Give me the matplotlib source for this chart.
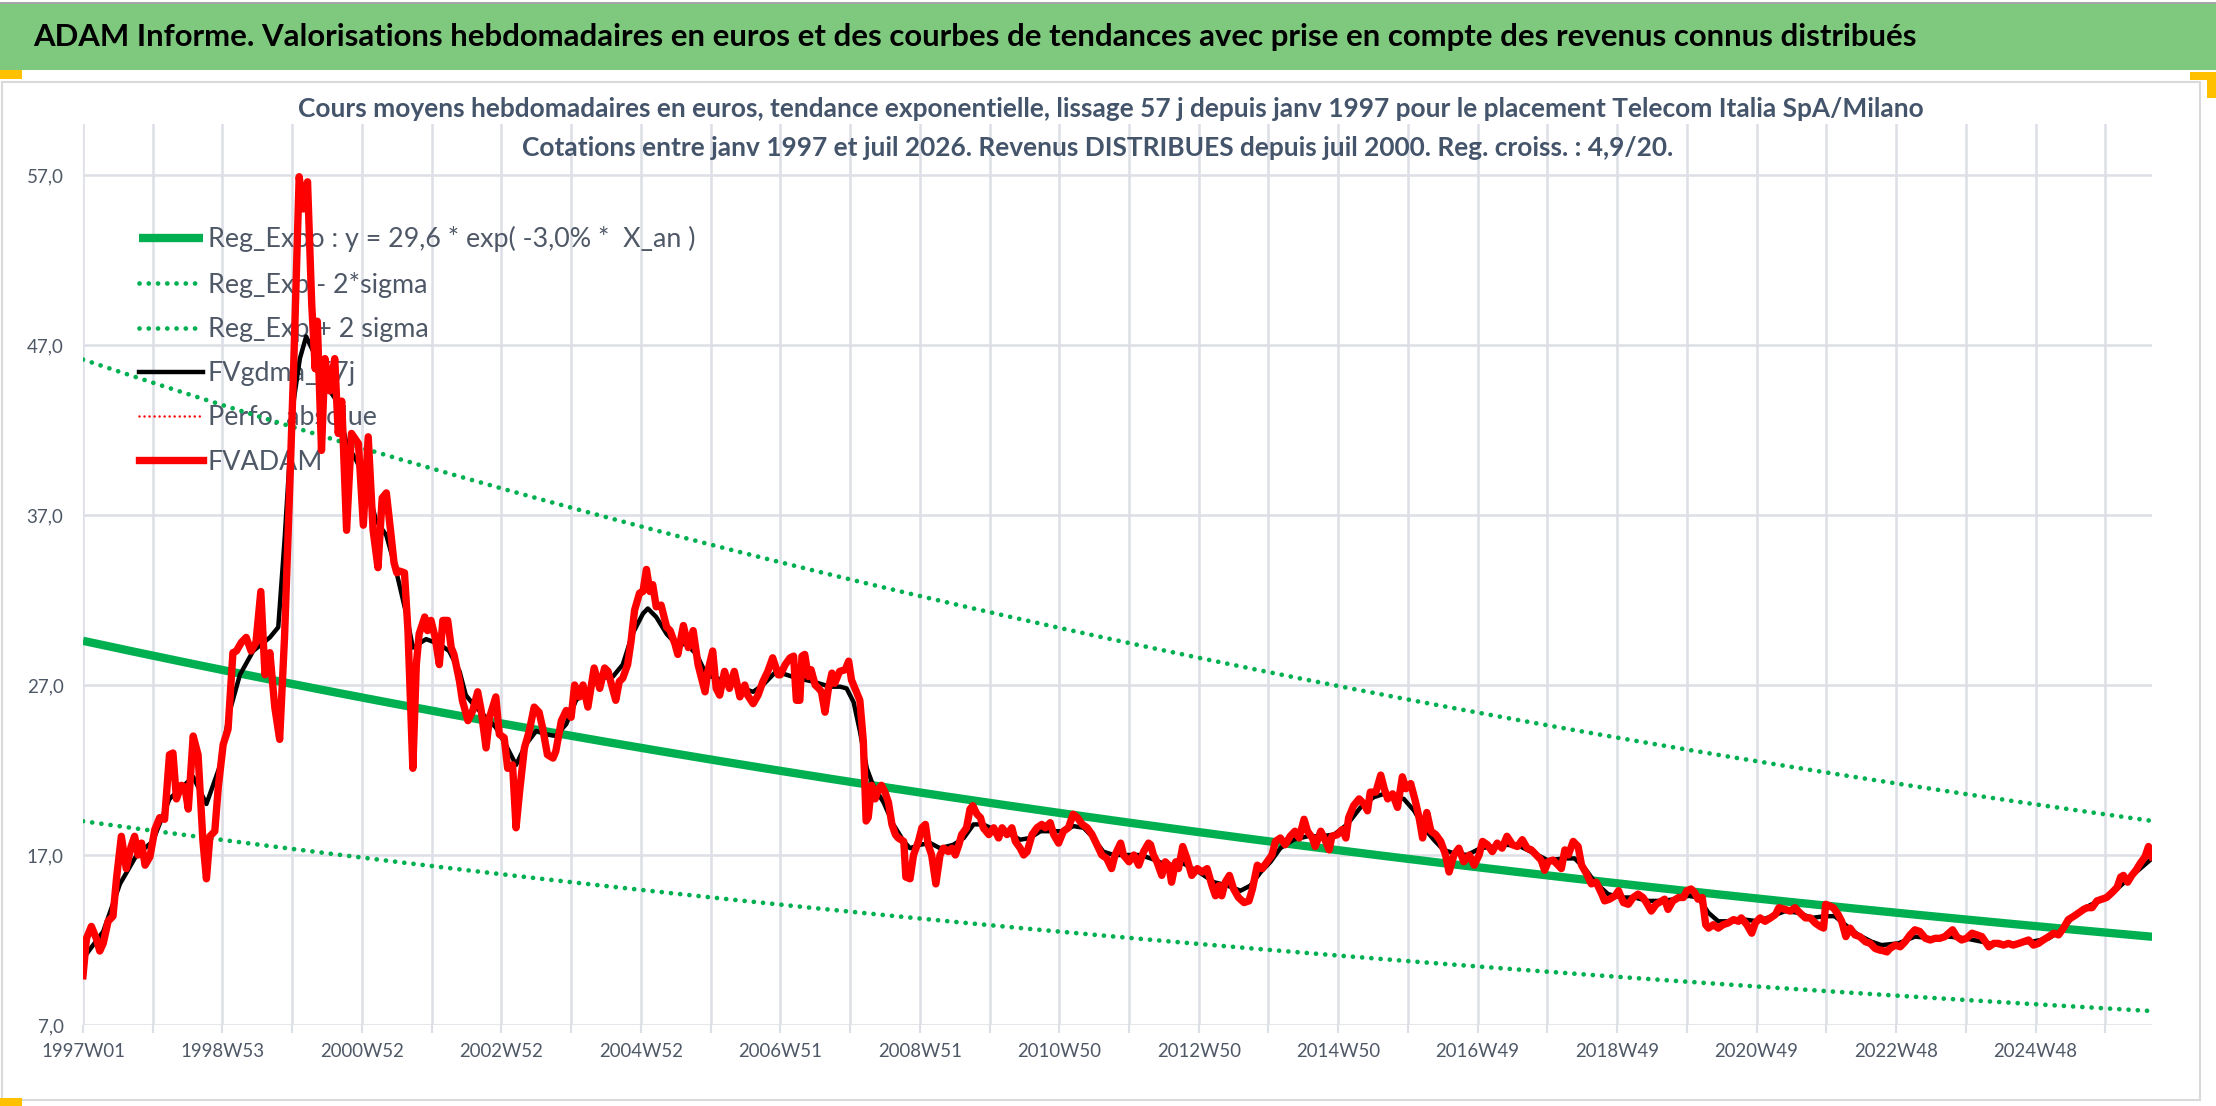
import numpy as np
import matplotlib
matplotlib.use('Agg')
import matplotlib.pyplot as plt
from matplotlib.patches import Rectangle

# ---- data (dates in 52-week "years" from 1997W01) ----
red_yr = [
    1997.00, 1997.05, 1997.12, 1997.19, 1997.24, 1997.29, 1997.36, 1997.43, 1997.48, 1997.55,
    1997.62, 1997.69, 1997.74, 1997.79, 1997.84, 1997.89, 1997.96, 1998.03, 1998.10, 1998.17,
    1998.24, 1998.29, 1998.34, 1998.41, 1998.46, 1998.51, 1998.58, 1998.65, 1998.72, 1998.77,
    1998.82, 1998.89, 1998.94, 1999.01, 1999.08, 1999.15, 1999.20, 1999.27, 1999.34, 1999.41,
    1999.48, 1999.55, 1999.61, 1999.68, 1999.75, 1999.82, 1999.89, 1999.97, 2000.02, 2000.10,
    2000.16, 2000.22, 2000.28, 2000.33, 2000.36, 2000.42, 2000.47, 2000.54, 2000.61, 2000.66,
    2000.71, 2000.78, 2000.85, 2000.95, 2001.02, 2001.09, 2001.16, 2001.23, 2001.29, 2001.35,
    2001.41, 2001.46, 2001.50,
    2001.54, 2001.61, 2001.66, 2001.73, 2001.78, 2001.82, 2001.90, 2001.94, 2001.99, 2002.05,
    2002.11, 2002.16, 2002.23, 2002.28, 2002.32, 2002.40, 2002.44, 2002.52, 2002.59, 2002.66,
    2002.71, 2002.78, 2002.83, 2002.92, 2002.97, 2003.04, 2003.09, 2003.16, 2003.21, 2003.26,
    2003.33, 2003.40, 2003.47, 2003.54, 2003.59, 2003.66, 2003.74, 2003.78, 2003.86, 2003.93,
    2004.00, 2004.05, 2004.12, 2004.17, 2004.24, 2004.29, 2004.33, 2004.41, 2004.48, 2004.53,
    2004.58, 2004.64, 2004.69, 2004.74, 2004.81, 2004.86, 2004.91, 2004.98, 2005.03, 2005.08,
    2005.13, 2005.17, 2005.22, 2005.29, 2005.37, 2005.42, 2005.49, 2005.53, 2005.61, 2005.68,
    2005.75, 2005.82, 2005.87, 2005.92, 2005.96, 2006.03, 2006.08, 2006.13, 2006.20, 2006.27,
    2006.34, 2006.42, 2006.49, 2006.53, 2006.61, 2006.68, 2006.75, 2006.82, 2006.89, 2006.97,
    2007.00, 2007.07, 2007.14, 2007.19, 2007.23, 2007.28, 2007.31, 2007.35, 2007.40, 2007.44,
    2007.50, 2007.55, 2007.59, 2007.64, 2007.69, 2007.74, 2007.78, 2007.85, 2007.93, 2007.98,
    2008.02, 2008.07, 2008.14, 2008.19, 2008.23, 2008.26, 2008.31, 2008.36, 2008.41, 2008.45,
    2008.50, 2008.55, 2008.60, 2008.65, 2008.69, 2008.77, 2008.80, 2008.86, 2008.91, 2008.98,
    2009.03, 2009.08, 2009.12, 2009.17, 2009.23, 2009.29, 2009.34, 2009.41, 2009.46, 2009.51,
    2009.56, 2009.60, 2009.67, 2009.72, 2009.76, 2009.82, 2009.87, 2009.91, 2009.99, 2010.06,
    2010.13, 2010.18, 2010.25, 2010.32, 2010.37, 2010.44, 2010.49, 2010.54, 2010.61, 2010.68,
    2010.75, 2010.80, 2010.87, 2010.92, 2010.99, 2011.06, 2011.13, 2011.20, 2011.26, 2011.33,
    2011.40, 2011.47, 2011.54, 2011.61, 2011.68, 2011.75, 2011.80, 2011.88, 2011.92, 2012.00,
    2012.07, 2012.14, 2012.21, 2012.28,
    2012.31, 2012.35, 2012.40, 2012.47, 2012.52, 2012.57, 2012.61, 2012.67, 2012.71, 2012.77,
    2012.83, 2012.90, 2012.98, 2013.05, 2013.12, 2013.19, 2013.24, 2013.29, 2013.33, 2013.38,
    2013.44, 2013.50, 2013.57, 2013.65, 2013.72, 2013.77, 2013.84, 2013.91, 2013.98, 2014.05,
    2014.10, 2014.17, 2014.24, 2014.31, 2014.38, 2014.44, 2014.51, 2014.56, 2014.63, 2014.67,
    2014.75, 2014.82, 2014.87, 2014.91, 2014.99, 2015.06, 2015.11, 2015.15, 2015.22, 2015.30,
    2015.37, 2015.42, 2015.46, 2015.54, 2015.61, 2015.66, 2015.71, 2015.78, 2015.85, 2015.92,
    2015.97, 2016.04, 2016.11, 2016.16, 2016.21, 2016.27, 2016.33, 2016.40, 2016.47, 2016.54,
    2016.59, 2016.66, 2016.73, 2016.80, 2016.88, 2016.95, 2017.02, 2017.07, 2017.14, 2017.21,
    2017.28, 2017.35, 2017.42, 2017.50, 2017.57, 2017.64, 2017.71,
    2017.77, 2017.84, 2017.91, 2017.96, 2018.01, 2018.08, 2018.13, 2018.20, 2018.25, 2018.30,
    2018.37, 2018.44, 2018.49, 2018.56, 2018.63, 2018.70, 2018.78, 2018.82, 2018.89, 2018.97,
    2019.02, 2019.09, 2019.16, 2019.23, 2019.30, 2019.37, 2019.42, 2019.49, 2019.56, 2019.64,
    2019.68, 2019.73, 2019.80, 2019.88, 2019.95, 2020.00, 2020.06, 2020.11, 2020.16, 2020.22,
    2020.27, 2020.31, 2020.38, 2020.45, 2020.52, 2020.59, 2020.67, 2020.74, 2020.78, 2020.86,
    2020.93, 2020.98, 2021.05, 2021.12, 2021.20, 2021.27, 2021.32, 2021.41, 2021.48, 2021.55,
    2021.62, 2021.70, 2021.77, 2021.84, 2021.91, 2021.96, 2021.99, 2022.05, 2022.10, 2022.17,
    2022.22, 2022.28, 2022.34, 2022.41, 2022.48, 2022.56, 2022.63, 2022.70, 2022.77,
    2022.79, 2022.87, 2022.91, 2022.99, 2023.06, 2023.13, 2023.20, 2023.27, 2023.34, 2023.42,
    2023.49, 2023.56, 2023.63, 2023.70, 2023.81, 2023.87, 2023.94, 2024.01, 2024.09, 2024.16,
    2024.23, 2024.28, 2024.33, 2024.40, 2024.47, 2024.54, 2024.61, 2024.68, 2024.76, 2024.83,
    2024.90, 2024.97, 2025.04, 2025.11, 2025.19, 2025.26, 2025.33, 2025.40, 2025.47, 2025.55,
    2025.62, 2025.69, 2025.74, 2025.81, 2025.88, 2025.95, 2026.02, 2026.10, 2026.17, 2026.22,
    2026.26, 2026.32, 2026.38, 2026.44, 2026.50, 2026.57, 2026.62, 2026.67,
]
red_val = [
    9.9, 12.1, 12.8, 12.1, 11.35, 11.8, 13.1, 13.4, 15.6, 18.1,
    16.2, 17.5, 18.1, 17.0, 17.7, 16.4, 16.9, 18.5, 19.2, 19.1,
    22.9, 23.0, 20.3, 21.1, 21.0, 19.7, 24.0, 22.9, 17.8, 15.6,
    18.1, 18.4, 21.0, 23.5, 24.4, 28.9, 29.0, 29.5, 29.8, 29.0,
    29.5, 32.5, 27.6, 28.9, 25.7, 23.8, 29.8, 39.3, 45.6, 56.9,
    55.0, 56.6, 49.4, 45.6, 48.4, 40.8, 46.2, 44.3, 46.2, 41.8,
    43.7, 36.1, 41.8, 41.2, 36.4, 41.6, 36.1, 33.9, 38.0, 38.3,
    36.1, 34.2, 33.6,
    33.7, 33.6, 30.2, 22.1, 28.2, 30.0, 31.0, 30.2, 30.8, 29.8,
    28.2, 30.8, 30.8, 29.2, 28.8, 27.2, 26.1, 24.9, 25.5, 26.6,
    25.5, 23.3, 25.1, 26.3, 24.1, 23.9, 22.1, 22.3, 18.6, 20.7,
    23.3, 24.3, 25.7, 25.4, 24.5, 22.9, 22.7, 23.1, 24.9, 25.5,
    25.1, 27.0, 26.3, 27.0, 25.7, 27.0, 28.0, 26.8, 28.0, 27.8,
    27.0, 26.1, 27.2, 27.4, 28.2, 29.6, 31.4, 32.4, 32.5, 33.8,
    32.5, 32.9, 31.6, 31.7, 30.4, 30.2, 29.4, 28.8, 30.5, 29.2,
    30.2, 28.2, 27.4, 26.6, 27.8, 29.0, 26.8, 26.4, 27.8, 26.8,
    27.8, 26.3, 27.0, 26.4, 25.9, 26.4, 27.2, 27.8, 28.6, 27.6,
    27.6, 28.2, 28.6, 28.7, 26.1, 26.1, 28.7, 28.8, 27.5, 27.9,
    27.0, 26.8, 26.6, 25.4, 26.8, 27.7, 27.1, 27.8, 27.9, 28.4,
    27.3, 26.8, 26.1, 23.7, 19.0, 19.2, 21.1, 20.3, 20.9, 21.1,
    20.7, 20.1, 18.8, 18.2, 18.0, 17.8, 15.7, 15.6, 17.0, 17.8,
    18.6, 18.8, 17.6, 17.0, 15.3, 17.0, 17.4, 17.2, 17.4, 17.0,
    17.6, 18.2, 18.6, 19.7, 19.9, 19.4, 19.2, 18.6, 18.2, 18.6,
    18.0, 18.6, 18.2, 18.6, 17.8, 17.4, 17.0, 17.2, 18.2, 18.6,
    18.8, 18.6, 18.9, 18.2, 17.7, 18.4, 18.6, 19.4, 19.2, 18.8,
    18.6, 18.2, 17.6, 17.0, 16.8, 16.2, 17.0, 17.7, 17.0, 16.6,
    17.0, 16.4, 17.2, 17.7,
    17.6, 17.0, 16.6, 15.8, 16.6, 16.4, 15.4, 16.6, 16.2, 17.5,
    16.8, 15.8, 16.2, 16.0, 16.2, 15.2, 14.6, 15.2, 14.6, 15.4,
    15.8, 15.0, 14.5, 14.2, 14.3, 15.0, 16.4, 16.2, 16.6, 17.0,
    17.8, 18.0, 17.6, 18.1, 18.4, 18.0, 19.1, 18.4, 18.0, 17.5,
    18.4, 17.8, 17.3, 18.1, 18.2, 18.5, 18.0, 19.2, 19.9, 20.3,
    20.0, 19.6, 20.7, 20.7, 21.7, 20.9, 20.3, 20.6, 19.8, 21.6,
    20.9, 21.2, 20.1, 19.2, 18.0, 19.5, 18.4, 18.2, 17.8, 17.0,
    16.0, 17.0, 17.4, 16.6, 17.0, 16.4, 17.0, 17.8, 17.6, 17.2,
    17.7, 17.4, 18.1, 17.6, 17.5, 17.9, 17.4,
    17.3, 17.0, 16.7, 16.1, 16.6, 16.7, 16.5, 16.2, 17.3, 17.0,
    17.8, 17.5, 16.4, 15.9, 15.3, 15.4, 14.7, 14.3, 14.4, 14.6,
    14.9, 14.2, 14.1, 14.5, 14.7, 14.5, 14.2, 13.7, 14.1, 14.3,
    14.4, 13.8, 14.3, 14.5, 14.5, 14.9, 15.0, 14.8, 14.4, 14.5,
    12.9, 12.7, 12.9, 12.7, 12.9, 13.0, 13.2, 13.1, 13.3, 12.9,
    12.4, 13.0, 13.3, 13.1, 13.3, 13.5, 13.9, 13.8, 13.7, 13.9,
    13.6, 13.3, 13.3, 13.0, 12.8, 12.7, 14.1, 14.0, 13.9, 13.5,
    13.1, 12.2, 12.7, 12.3, 12.2, 11.9, 11.8, 11.5, 11.4,
    11.4, 11.3, 11.5, 11.7, 11.6, 11.9, 12.3, 12.6, 12.5, 12.1,
    12.0, 12.1, 12.1, 12.2, 12.6, 12.2, 12.0, 12.1, 12.4, 12.3,
    12.2, 11.9, 11.6, 11.8, 11.8, 11.7, 11.8, 11.7, 11.8, 11.9,
    12.0, 11.7, 11.8, 12.0, 12.2, 12.4, 12.3, 12.7, 13.2, 13.4,
    13.6, 13.8, 13.9, 13.9, 14.3, 14.4, 14.5, 14.8, 15.1, 15.7,
    15.8, 15.4, 15.8, 16.1, 16.5, 16.9, 17.5, 16.9,
]

black_yr = [
    1997.00, 1997.29, 1997.53, 1997.77, 1998.00, 1998.24, 1998.58, 1998.77, 1998.96, 1999.10,
    1999.25, 1999.44, 1999.68, 1999.80, 1999.89, 2000.01, 2000.11, 2000.20, 2000.35, 2000.49,
    2000.64, 2000.78, 2000.92, 2001.06, 2001.20, 2001.35, 2001.48, 2001.64,
    2001.73, 2001.92, 2002.11, 2002.25, 2002.40, 2002.49, 2002.63, 2002.78, 2002.92, 2003.06,
    2003.21, 2003.35, 2003.50, 2003.64, 2003.78, 2003.93, 2004.07, 2004.21, 2004.41, 2004.60,
    2004.74, 2004.88, 2005.03, 2005.10, 2005.22, 2005.37, 2005.51, 2005.65, 2005.80, 2005.94,
    2006.08, 2006.27, 2006.46, 2006.61, 2006.75, 2006.94,
    2007.24, 2007.47, 2007.71, 2007.86, 2007.95, 2008.05, 2008.14, 2008.24, 2008.33, 2008.48,
    2008.62, 2008.77, 2008.86, 2009.00, 2009.15, 2009.29, 2009.48, 2009.63, 2009.77, 2009.91,
    2010.11, 2010.30, 2010.44, 2010.58, 2010.73, 2010.92, 2011.06, 2011.20, 2011.35, 2011.49,
    2011.63, 2011.78, 2011.97, 2012.16,
    2012.31, 2012.55, 2012.78, 2013.00, 2013.22, 2013.41, 2013.60, 2013.74, 2013.89, 2014.03,
    2014.17, 2014.36, 2014.56, 2014.75, 2014.94, 2015.13, 2015.32, 2015.51, 2015.66, 2015.80,
    2015.94, 2016.09, 2016.23, 2016.37, 2016.51, 2016.66, 2016.85, 2017.04, 2017.23, 2017.42,
    2017.61, 2017.81,
    2018.00, 2018.25, 2018.39, 2018.54, 2018.68, 2018.87, 2019.06, 2019.25, 2019.44, 2019.64,
    2019.83, 2020.02, 2020.16, 2020.31, 2020.45, 2020.64, 2020.83, 2021.02, 2021.22, 2021.41,
    2021.60, 2021.79, 2021.98, 2022.12, 2022.27, 2022.46, 2022.65,
    2022.79, 2023.03, 2023.27, 2023.51, 2023.75, 2023.99, 2024.23, 2024.47, 2024.71, 2024.95,
    2025.19, 2025.38, 2025.57, 2025.76, 2025.95, 2026.14, 2026.33, 2026.53, 2026.67,
]
black_val = [
    10.9, 12.5, 15.3, 17.0, 17.8, 20.3, 21.6, 20.0, 22.2, 25.4,
    27.6, 29.0, 29.8, 30.4, 35.5, 43.4, 46.2, 47.5, 46.2, 44.6,
    43.7, 41.2, 40.2, 39.0, 36.7, 35.8, 33.9, 31.1,
    29.2, 29.7, 29.4, 29.0, 27.8, 26.4, 25.7, 25.1, 24.5, 23.5,
    22.3, 23.5, 24.3, 24.1, 24.0, 24.7, 26.1, 26.6, 27.4, 27.5,
    28.2, 30.0, 31.2, 31.5, 31.0, 30.0, 29.4, 29.4, 28.8, 27.6,
    27.4, 27.2, 26.8, 26.6, 27.0, 27.8,
    27.4, 27.2, 26.9, 26.9, 26.8, 26.0, 24.3, 22.1, 21.1, 20.1,
    18.8, 17.8, 17.4, 17.6, 17.7, 17.4, 17.6, 18.0, 18.8, 18.8,
    18.4, 18.2, 17.9, 18.0, 18.4, 18.4, 18.4, 18.7, 18.6, 18.0,
    17.2, 17.0, 17.0, 17.0,
    16.8, 16.4, 16.5, 16.0, 15.4, 15.2, 14.9, 15.2, 16.0, 16.6,
    17.4, 17.9, 18.1, 18.1, 18.2, 18.8, 19.8, 20.4, 20.6, 20.4,
    20.3, 19.6, 18.6, 17.9, 17.3, 17.1, 17.0, 17.4, 17.5, 17.6,
    17.5, 17.1,
    16.7, 16.8, 16.8, 16.2, 15.4, 14.7, 14.5, 14.5, 14.3, 14.3,
    14.4, 14.6, 14.5, 13.6, 13.1, 13.1, 13.2, 13.1, 13.4, 13.7,
    13.6, 13.3, 13.4, 13.4, 12.9, 12.3, 11.9,
    11.7, 11.8, 12.2, 12.1, 12.2, 12.1, 11.9, 11.7, 11.8, 11.9,
    12.1, 12.6, 13.5, 14.0, 14.4, 14.9, 15.6, 16.3, 16.8,
]

# exponential regression as given in the legend
reg_a = 29.6
reg_rate = -0.030
reg_sigma = 0.222
weeks_per_year = 52.18

x_tick_labels = ['1997W01', '1998W53', '2000W52', '2002W52', '2004W52', '2006W51',
                 '2008W51', '2010W50', '2012W50', '2014W50', '2016W49', '2018W49',
                 '2020W49', '2022W48', '2024W48']
y_ticks = [7, 17, 27, 37, 47, 57]

title = ('ADAM Informe. Valorisations hebdomadaires en euros et des courbes de tendances '
         'avec prise en compte des revenus connus distribués')
sub1 = ('Cours moyens hebdomadaires en euros, tendance exponentielle, lissage 57 j depuis '
        'janv 1997 pour le placement Telecom Italia SpA/Milano')
sub2 = ('Cotations entre janv 1997 et juil 2026. Revenus DISTRIBUES depuis juil 2000. '
        'Reg. croiss. : 4,9/20.')

# ---- figure ----
W, H = 2216, 1106
FONT = 'Lato'
NARROW = ['Liberation Sans Narrow', 'Lato']
GRID = '#DCDFE5'
TXT = '#4F5866'
GREEN = '#00B050'

fig = plt.figure(figsize=(W / 100, H / 100), dpi=100)
renderer = fig.canvas.get_renderer()


def fit(text, target_px, weight='normal', family=FONT, base=20.0):
    t = fig.text(0, 0, text, fontsize=base, family=family, weight=weight)
    w = t.get_window_extent(renderer).width
    t.remove()
    return base * target_px / w


def fy(y):
    return 1 - y / H


# title bar and chart frame
fig.patches.append(Rectangle((0, fy(70)), 1, 66 / H, transform=fig.transFigure,
                             facecolor='#7FC97F', edgecolor='none', zorder=0))
fig.patches.append(Rectangle((0, fy(4)), 1, 2 / H, transform=fig.transFigure,
                             facecolor='#A6A6A6', edgecolor='none', zorder=0))
fig.patches.append(Rectangle((2 / W, fy(1100)), 2198 / W, 1018 / H, transform=fig.transFigure,
                             facecolor='none', edgecolor='#D9D9D9', lw=1.5, zorder=0))
for (x0, y0, w, h) in [(0, 70, 22, 9), (2190, 72, 26, 8), (2207, 72, 9, 26), (0, 1098, 22, 8)]:
    fig.patches.append(Rectangle((x0 / W, fy(y0 + h)), w / W, h / H, transform=fig.transFigure,
                                 facecolor='#FFC000', edgecolor='none', zorder=1))

fig.text(33 / W, fy(37), title, ha='left', va='center', family=FONT, weight='bold',
         fontsize=fit(title, 1885, 'bold'), color='black')
sub_fs = fit(sub1, 1627, 'bold')
fig.text(1111 / W, fy(109), sub1, ha='center', va='center', family=FONT, weight='bold',
         fontsize=sub_fs, color='#44546A')
fig.text(1098 / W, fy(148), sub2, ha='center', va='center', family=FONT, weight='bold',
         fontsize=sub_fs, color='#44546A')

ax = fig.add_axes([83 / W, (H - 1025) / H, 2069 / W, 901 / H])
for s in ax.spines.values():
    s.set_visible(False)

red_w = (np.array(red_yr) - 1997) * 52
black_w = (np.array(black_yr) - 1997) * 52
trend_w = np.arange(0, red_w[-1] + 1)
trend = reg_a * np.exp(reg_rate * trend_w / weeks_per_year)

dots = (0, (0.01, 1.95))
ax.plot(trend_w, trend, color=GREEN, lw=6.0, solid_capstyle='butt', zorder=3,
        label='Reg_Expo : y = 29,6 * exp( -3,0% *  X_an )')
ax.plot(trend_w, trend * np.exp(-2 * reg_sigma), color=GREEN, lw=3.4, linestyle=dots,
        dash_capstyle='round', zorder=3, label='Reg_Exp - 2*sigma')
ax.plot(trend_w, trend * np.exp(2 * reg_sigma), color=GREEN, lw=3.4, linestyle=dots,
        dash_capstyle='round', zorder=3, label='Reg_Exp + 2 sigma')
ax.plot(black_w, black_val, color='black', lw=3.2, zorder=4, label='FVgdma_57j')
ax.plot([], [], color='#FF0000', lw=1.8, linestyle=(0, (0.01, 2.0)), dash_capstyle='round',
        label='Perfo. absolue')
ax.plot(red_w, red_val, color='#FF0000', lw=5.3, zorder=5, label='FVADAM')

ax.set_xlim(0, red_w[-1])
ax.set_ylim(7, 60)
ax.set_yticks(y_ticks)
ax.set_yticklabels([f'{v:.1f}'.replace('.', ',') for v in y_ticks])
ax.set_xticks(np.arange(len(x_tick_labels)) * 104)
ax.set_xticklabels(x_tick_labels)
ax.set_xticks(np.arange(0, red_w[-1], 52), minor=True)
ax.grid(True, which='both', axis='x', color=GRID, lw=1.8, zorder=0)
ax.grid(True, which='major', axis='y', color=GRID, lw=1.8, zorder=0)
ax.set_axisbelow(True)

xfs = fit('1997W01', 84, family=NARROW)
yfs = fit('57,0', 37, family=NARROW)
ax.tick_params(axis='x', which='both', length=5.8, width=1.5, color=GRID, pad=7,
               labelsize=xfs, labelcolor=TXT)
ax.tick_params(axis='y', length=0, pad=14, labelsize=yfs, labelcolor=TXT)
for lab in ax.get_xticklabels() + ax.get_yticklabels():
    lab.set_family(NARROW)

# legend, drawn under the data lines
lfs = fit('Reg_Expo : y = 29,6 * exp( -3,0% *  X_an )', 488)
lpx = lfs * 100 / 72
top_px = 243 - 0.62 * lpx
leg = ax.legend(loc='upper left', bbox_to_anchor=((139 - 83) / 2069, 1 - (top_px - 124) / 901),
                frameon=False, borderpad=0, borderaxespad=0,
                handlelength=64 / lpx, handletextpad=5 / lpx,
                labelspacing=(51.5 - 1.2 * lpx) / lpx,
                prop={'family': FONT, 'size': lfs})
for t in leg.get_texts():
    t.set_color(TXT)
leg.set_zorder(1)

fig.savefig('out.png', dpi=100)
